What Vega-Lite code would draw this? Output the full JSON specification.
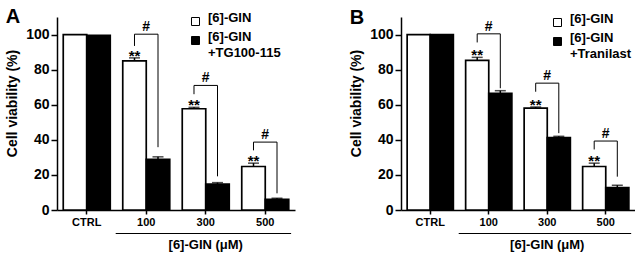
{
  "$schema": "https://vega.github.io/schema/vega-lite/v6.json",
  "background": "white",
  "padding": {"left": 5, "top": 7, "right": 0, "bottom": 0},
  "spacing": 54,
  "config": {
    "font": "Liberation Sans",
    "view": {"stroke": null},
    "axis": {"domainColor": "black", "tickColor": "black", "labelColor": "black", "titleColor": "black", "grid": false, "domainWidth": 1.5, "tickWidth": 1.5},
    "axisX": {"labelFontSize": 11, "labelFontWeight": "bold", "tickSize": 4, "labelPadding": 2, "labelAngle": 0},
    "axisY": {"labelFontSize": 14, "labelFontWeight": "bold", "tickSize": 6, "labelPadding": 2, "titleFontSize": 14, "titleFontWeight": "bold", "titlePadding": 6, "values": [0, 20, 40, 60, 80, 100]},
    "legend": {"title": null, "orient": "none", "symbolType": "square", "symbolSize": 64, "symbolStrokeColor": "black", "symbolStrokeWidth": 1, "labelFontSize": 13, "labelFontWeight": "bold", "labelColor": "black", "labelBaseline": "alphabetic", "labelOffset": 6, "rowPadding": 2, "padding": 0, "labelLimit": 0},
    "title": {"fontSize": 20, "fontWeight": "bold", "anchor": "start", "color": "black", "frame": "bounds"}
  },
  "datasets": {
    "bars": [
      {"panel": "A", "dose": "CTRL", "grp": "[6]-GIN", "value": 100, "hi": 100},
      {"panel": "A", "dose": "CTRL", "grp": "[6]-GIN +TG100-115", "value": 99.5, "hi": 99.5},
      {"panel": "A", "dose": "100", "grp": "[6]-GIN", "value": 85.0, "hi": 86.7},
      {"panel": "A", "dose": "100", "grp": "[6]-GIN +TG100-115", "value": 28.8, "hi": 30.3},
      {"panel": "A", "dose": "300", "grp": "[6]-GIN", "value": 57.7, "hi": 58.5},
      {"panel": "A", "dose": "300", "grp": "[6]-GIN +TG100-115", "value": 14.7, "hi": 15.6},
      {"panel": "A", "dose": "500", "grp": "[6]-GIN", "value": 24.8, "hi": 26.7},
      {"panel": "A", "dose": "500", "grp": "[6]-GIN +TG100-115", "value": 6.1, "hi": 6.7},
      {"panel": "B", "dose": "CTRL", "grp": "[6]-GIN", "value": 100, "hi": 100},
      {"panel": "B", "dose": "CTRL", "grp": "[6]-GIN +Tranilast", "value": 100, "hi": 100},
      {"panel": "B", "dose": "100", "grp": "[6]-GIN", "value": 85.3, "hi": 87.0},
      {"panel": "B", "dose": "100", "grp": "[6]-GIN +Tranilast", "value": 66.5, "hi": 68.0},
      {"panel": "B", "dose": "300", "grp": "[6]-GIN", "value": 58.1, "hi": 58.7},
      {"panel": "B", "dose": "300", "grp": "[6]-GIN +Tranilast", "value": 41.3, "hi": 42.0},
      {"panel": "B", "dose": "500", "grp": "[6]-GIN", "value": 24.8, "hi": 26.7},
      {"panel": "B", "dose": "500", "grp": "[6]-GIN +Tranilast", "value": 12.8, "hi": 14.1}
    ],
    "brackets": [
      {"panel": "A", "dose": "100", "top": 100.2, "left": 93.5, "right": 35.8},
      {"panel": "A", "dose": "300", "top": 71.0, "left": 66.0, "right": 19.2},
      {"panel": "A", "dose": "500", "top": 38.7, "left": 34.0, "right": 9.5},
      {"panel": "B", "dose": "100", "top": 100.4, "left": 95.5, "right": 69.4},
      {"panel": "B", "dose": "300", "top": 72.3, "left": 67.4, "right": 43.8},
      {"panel": "B", "dose": "500", "top": 39.3, "left": 34.5, "right": 19.0}
    ],
    "axisnote": [
      {"from": "100", "to": "500", "at": "300", "label": "[6]-GIN (μM)"}
    ]
  },
  "hconcat": [
    {
      "width": 238,
      "height": 193,
      "title": {"text": "A", "offset": -12},
      "layer": [
        {
          "data": {"name": "bars"},
          "transform": [{"filter": "datum.panel == 'A'"}],
          "mark": {"type": "bar", "stroke": "black", "strokeWidth": 1.7},
          "encoding": {
            "x": {"field": "dose", "type": "nominal", "sort": ["CTRL", "100", "300", "500"], "title": null, "scale": {"domain": ["CTRL", "100", "300", "500"], "paddingInner": 0.21, "paddingOuter": 0.105}},
            "xOffset": {"field": "grp", "type": "nominal", "scale": {"paddingInner": 0, "paddingOuter": 0}},
            "y": {"field": "value", "type": "quantitative", "title": "Cell viability (%)", "scale": {"domain": [0, 110], "nice": false}, "axis": {"titleY": 86}},
            "fill": {"field": "grp", "type": "nominal", "scale": {"range": ["white", "black"]}, "legend": {"legendX": 132, "legendY": -2, "labelExpr": "length(split(datum.label, ' ')) > 1 ? [split(datum.label, ' ')[0], '\u00a0\u00a0' + split(datum.label, ' ')[1]] : datum.label", "encode": {"labels": {"update": {"lineHeight": {"value": 16}}}}}}
          }
        },
        {
          "data": {"name": "bars"},
          "transform": [{"filter": "datum.panel == 'A' && datum.hi > datum.value"}],
          "mark": {"type": "rule", "color": "black", "strokeWidth": 1.5},
          "encoding": {
            "x": {"field": "dose", "type": "nominal", "title": null},
            "xOffset": {"field": "grp", "type": "nominal"},
            "y": {"field": "value", "type": "quantitative", "title": "Cell viability (%)"},
            "y2": {"field": "hi"}
          }
        },
        {
          "data": {"name": "bars"},
          "transform": [{"filter": "datum.panel == 'A' && datum.hi > datum.value"}],
          "mark": {"type": "tick", "color": "black", "thickness": 1.5, "size": 11},
          "encoding": {
            "x": {"field": "dose", "type": "nominal", "title": null},
            "xOffset": {"field": "grp", "type": "nominal"},
            "y": {"field": "hi", "type": "quantitative", "title": "Cell viability (%)"}
          }
        },
        {
          "data": {"name": "bars"},
          "transform": [{"filter": "datum.panel == 'A' && datum.grp == '[6]-GIN' && datum.dose != 'CTRL'"}],
          "mark": {"type": "text", "text": "**", "fontSize": 15, "fontWeight": "bold", "baseline": "alphabetic", "dy": 3, "color": "black"},
          "encoding": {
            "x": {"field": "dose", "type": "nominal", "title": null, "bandPosition": 0.25},
            "y": {"field": "hi", "type": "quantitative", "title": "Cell viability (%)"}
          }
        },
        {
          "data": {"name": "brackets"},
          "transform": [{"filter": "datum.panel == 'A'"}],
          "mark": {"type": "rule", "color": "black", "strokeWidth": 1},
          "encoding": {
            "x": {"field": "dose", "type": "nominal", "title": null, "bandPosition": 0.25},
            "x2": {"field": "dose", "bandPosition": 0.75},
            "y": {"field": "top", "type": "quantitative", "title": "Cell viability (%)"}
          }
        },
        {
          "data": {"name": "brackets"},
          "transform": [{"filter": "datum.panel == 'A'"}],
          "mark": {"type": "rule", "color": "black", "strokeWidth": 1},
          "encoding": {
            "x": {"field": "dose", "type": "nominal", "title": null, "bandPosition": 0.25},
            "y": {"field": "left", "type": "quantitative", "title": "Cell viability (%)"},
            "y2": {"field": "top"}
          }
        },
        {
          "data": {"name": "brackets"},
          "transform": [{"filter": "datum.panel == 'A'"}],
          "mark": {"type": "rule", "color": "black", "strokeWidth": 1},
          "encoding": {
            "x": {"field": "dose", "type": "nominal", "title": null, "bandPosition": 0.75},
            "y": {"field": "right", "type": "quantitative", "title": "Cell viability (%)"},
            "y2": {"field": "top"}
          }
        },
        {
          "data": {"name": "brackets"},
          "transform": [{"filter": "datum.panel == 'A'"}],
          "mark": {"type": "text", "text": "#", "fontSize": 14, "fontWeight": "bold", "baseline": "alphabetic", "dy": -3, "color": "black"},
          "encoding": {
            "x": {"field": "dose", "type": "nominal", "title": null, "bandPosition": 0.5},
            "y": {"field": "top", "type": "quantitative", "title": "Cell viability (%)"}
          }
        },
        {
          "data": {"name": "axisnote"},
          "mark": {"type": "rule", "color": "black", "strokeWidth": 1.2},
          "encoding": {
            "x": {"field": "from", "type": "nominal", "title": null, "bandPosition": -0.15},
            "x2": {"field": "to", "bandPosition": 1.05},
            "y": {"datum": -13.4, "type": "quantitative", "title": "Cell viability (%)"}
          }
        },
        {
          "data": {"name": "axisnote"},
          "mark": {"type": "text", "fontSize": 13, "fontWeight": "bold", "baseline": "middle", "color": "black"},
          "encoding": {
            "x": {"field": "at", "type": "nominal", "title": null},
            "y": {"datum": -19.8, "type": "quantitative", "title": "Cell viability (%)"},
            "text": {"field": "label"}
          }
        }
      ]
    },
    {
      "width": 234,
      "height": 193,
      "title": {"text": "B", "offset": -12},
      "layer": [
        {
          "data": {"name": "bars"},
          "transform": [{"filter": "datum.panel == 'B'"}],
          "mark": {"type": "bar", "stroke": "black", "strokeWidth": 1.7},
          "encoding": {
            "x": {"field": "dose", "type": "nominal", "sort": ["CTRL", "100", "300", "500"], "title": null, "scale": {"domain": ["CTRL", "100", "300", "500"], "paddingInner": 0.21, "paddingOuter": 0.105}},
            "xOffset": {"field": "grp", "type": "nominal", "scale": {"paddingInner": 0, "paddingOuter": 0}},
            "y": {"field": "value", "type": "quantitative", "title": "Cell viability (%)", "scale": {"domain": [0, 110], "nice": false}, "axis": {"titleY": 86}},
            "fill": {"field": "grp", "type": "nominal", "scale": {"range": ["white", "black"]}, "legend": {"legendX": 150, "legendY": -1, "labelExpr": "length(split(datum.label, ' ')) > 1 ? [split(datum.label, ' ')[0], '\u00a0\u00a0' + split(datum.label, ' ')[1]] : datum.label", "encode": {"labels": {"update": {"lineHeight": {"value": 16}}}}}}
          }
        },
        {
          "data": {"name": "bars"},
          "transform": [{"filter": "datum.panel == 'B' && datum.hi > datum.value"}],
          "mark": {"type": "rule", "color": "black", "strokeWidth": 1.5},
          "encoding": {
            "x": {"field": "dose", "type": "nominal", "title": null},
            "xOffset": {"field": "grp", "type": "nominal"},
            "y": {"field": "value", "type": "quantitative", "title": "Cell viability (%)"},
            "y2": {"field": "hi"}
          }
        },
        {
          "data": {"name": "bars"},
          "transform": [{"filter": "datum.panel == 'B' && datum.hi > datum.value"}],
          "mark": {"type": "tick", "color": "black", "thickness": 1.5, "size": 11},
          "encoding": {
            "x": {"field": "dose", "type": "nominal", "title": null},
            "xOffset": {"field": "grp", "type": "nominal"},
            "y": {"field": "hi", "type": "quantitative", "title": "Cell viability (%)"}
          }
        },
        {
          "data": {"name": "bars"},
          "transform": [{"filter": "datum.panel == 'B' && datum.grp == '[6]-GIN' && datum.dose != 'CTRL'"}],
          "mark": {"type": "text", "text": "**", "fontSize": 15, "fontWeight": "bold", "baseline": "alphabetic", "dy": 3, "color": "black"},
          "encoding": {
            "x": {"field": "dose", "type": "nominal", "title": null, "bandPosition": 0.25},
            "y": {"field": "hi", "type": "quantitative", "title": "Cell viability (%)"}
          }
        },
        {
          "data": {"name": "brackets"},
          "transform": [{"filter": "datum.panel == 'B'"}],
          "mark": {"type": "rule", "color": "black", "strokeWidth": 1},
          "encoding": {
            "x": {"field": "dose", "type": "nominal", "title": null, "bandPosition": 0.25},
            "x2": {"field": "dose", "bandPosition": 0.75},
            "y": {"field": "top", "type": "quantitative", "title": "Cell viability (%)"}
          }
        },
        {
          "data": {"name": "brackets"},
          "transform": [{"filter": "datum.panel == 'B'"}],
          "mark": {"type": "rule", "color": "black", "strokeWidth": 1},
          "encoding": {
            "x": {"field": "dose", "type": "nominal", "title": null, "bandPosition": 0.25},
            "y": {"field": "left", "type": "quantitative", "title": "Cell viability (%)"},
            "y2": {"field": "top"}
          }
        },
        {
          "data": {"name": "brackets"},
          "transform": [{"filter": "datum.panel == 'B'"}],
          "mark": {"type": "rule", "color": "black", "strokeWidth": 1},
          "encoding": {
            "x": {"field": "dose", "type": "nominal", "title": null, "bandPosition": 0.75},
            "y": {"field": "right", "type": "quantitative", "title": "Cell viability (%)"},
            "y2": {"field": "top"}
          }
        },
        {
          "data": {"name": "brackets"},
          "transform": [{"filter": "datum.panel == 'B'"}],
          "mark": {"type": "text", "text": "#", "fontSize": 14, "fontWeight": "bold", "baseline": "alphabetic", "dy": -3, "color": "black"},
          "encoding": {
            "x": {"field": "dose", "type": "nominal", "title": null, "bandPosition": 0.5},
            "y": {"field": "top", "type": "quantitative", "title": "Cell viability (%)"}
          }
        },
        {
          "data": {"name": "axisnote"},
          "mark": {"type": "rule", "color": "black", "strokeWidth": 1.2},
          "encoding": {
            "x": {"field": "from", "type": "nominal", "title": null, "bandPosition": -0.15},
            "x2": {"field": "to", "bandPosition": 1.05},
            "y": {"datum": -13.4, "type": "quantitative", "title": "Cell viability (%)"}
          }
        },
        {
          "data": {"name": "axisnote"},
          "mark": {"type": "text", "fontSize": 13, "fontWeight": "bold", "baseline": "middle", "color": "black"},
          "encoding": {
            "x": {"field": "at", "type": "nominal", "title": null},
            "y": {"datum": -19.8, "type": "quantitative", "title": "Cell viability (%)"},
            "text": {"field": "label"}
          }
        }
      ]
    }
  ],
  "resolve": {"scale": {"x": "independent", "y": "independent", "xOffset": "independent", "fill": "independent"}, "legend": {"fill": "independent"}}
}
